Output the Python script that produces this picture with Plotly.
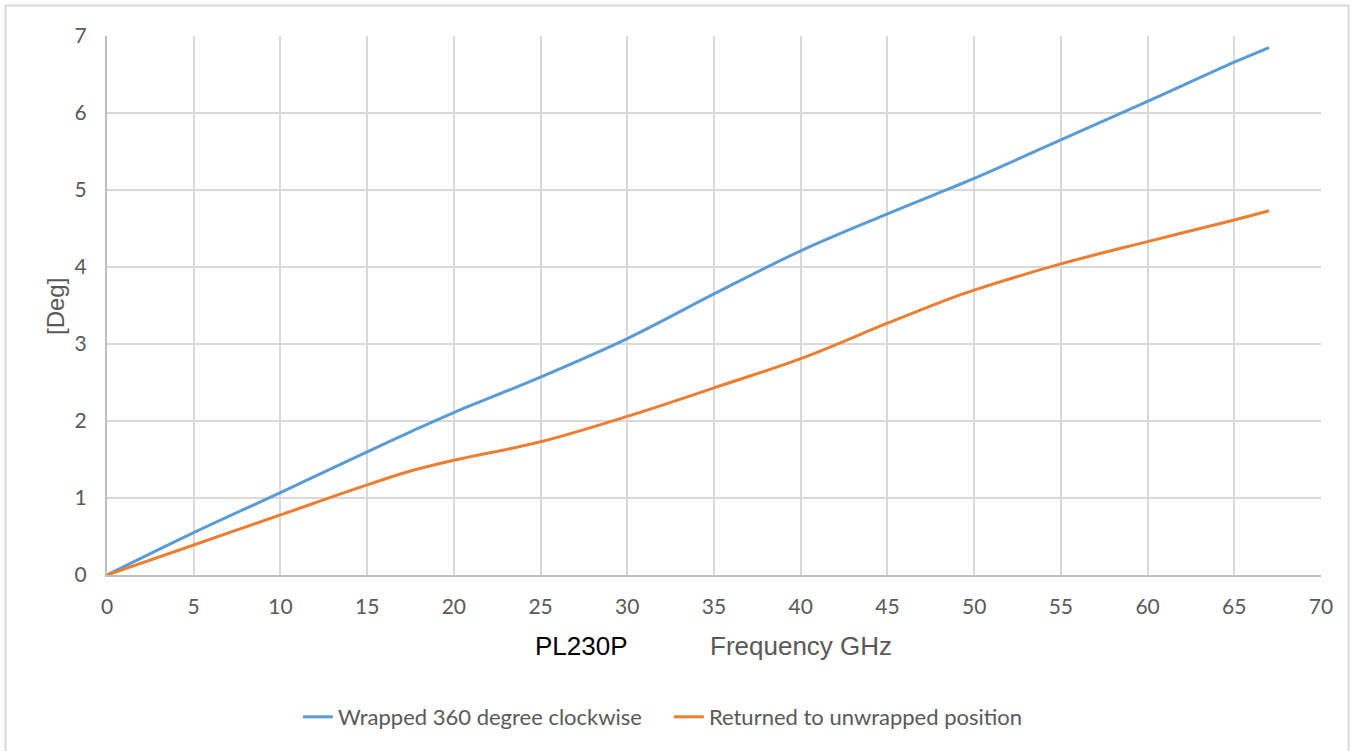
import plotly.graph_objects as go

# --- DATA ---
freq_ghz = [0, 5, 10, 15, 17.5, 20, 25, 30, 35, 40, 45, 48.6, 50, 55, 60, 65, 67]
wrapped_deg = [0, 0.55, 1.07, 1.60, 1.86, 2.11, 2.57, 3.07, 3.65, 4.21, 4.69, 5.02, 5.15, 5.65, 6.15, 6.66, 6.85]
returned_deg = [0, 0.39, 0.78, 1.17, 1.35, 1.49, 1.73, 2.06, 2.43, 2.81, 3.27, 3.59, 3.70, 4.04, 4.33, 4.61, 4.73]

SERIES_NAMES = ["Wrapped 360 degree clockwise", "Returned to unwrapped position"]
SERIES_COLORS = ["#5B9BD5", "#ED7D31"]

X_TICKS = list(range(0, 71, 5))
Y_TICKS = list(range(0, 8))

GRID = "#d9d9d9"
TEXT_GREY = "#595959"
TICK_FONT = dict(family="Lato, Open Sans, sans-serif", size=21, color=TEXT_GREY)
LEGEND_FONT = dict(family="Lato, Open Sans, sans-serif", size=22, color=TEXT_GREY)
ARIAL = "Liberation Sans, Arial, sans-serif"

W, H = 1354, 751
M_L, M_R, M_T, M_B = 107, 33, 36, 176
PW, PH = W - M_L - M_R, H - M_T - M_B


def px_to_paper_x(px):
    return (px - M_L) / PW


def px_to_paper_y(py):
    return (H - M_B - py) / PH


fig = go.Figure()
for ys, name, color in zip([wrapped_deg, returned_deg], SERIES_NAMES, SERIES_COLORS):
    fig.add_trace(go.Scatter(
        x=freq_ghz, y=ys, mode="lines", name=name,
        line=dict(color=color, width=3, shape="spline", smoothing=1.0),
    ))

# outer chart border (Excel-style chart area frame)
fig.add_shape(
    type="rect", xref="paper", yref="paper",
    x0=px_to_paper_x(5.5), x1=px_to_paper_x(1348.5),
    y0=px_to_paper_y(770), y1=px_to_paper_y(5.5),
    line=dict(color=GRID, width=2), fillcolor="rgba(0,0,0,0)", layer="below",
)

# axis titles as fixed annotations
fig.add_annotation(
    text="[Deg]", xref="paper", yref="paper",
    x=px_to_paper_x(55), y=px_to_paper_y(306), showarrow=False,
    xanchor="center", yanchor="middle", textangle=-90,
    font=dict(family=ARIAL, size=24, color=TEXT_GREY),
)
fig.add_annotation(
    text="PL230P", xref="paper", yref="paper",
    x=px_to_paper_x(581), y=px_to_paper_y(646), showarrow=False,
    xanchor="center", yanchor="middle",
    font=dict(family=ARIAL, size=26, color="#000000"),
)
fig.add_annotation(
    text="Frequency GHz", xref="paper", yref="paper",
    x=px_to_paper_x(801), y=px_to_paper_y(646), showarrow=False,
    xanchor="center", yanchor="middle",
    font=dict(family=ARIAL, size=26, color=TEXT_GREY),
)

fig.update_layout(
    width=W, height=H,
    margin=dict(l=M_L, r=M_R, t=M_T, b=M_B, autoexpand=False),
    paper_bgcolor="white", plot_bgcolor="white",
    showlegend=True,
    legend=dict(
        orientation="h", x=0.494, xanchor="center", xref="container",
        y=px_to_paper_y(717), yanchor="middle",
        font=LEGEND_FONT, traceorder="normal", entrywidth=326,
    ),
    xaxis=dict(
        range=[0, 70], tickvals=X_TICKS, tickfont=TICK_FONT,
        showgrid=True, gridcolor=GRID, gridwidth=2,
        showline=True, linecolor="#bfbfbf", linewidth=2,
        zeroline=False, ticks="", ticklabelstandoff=12,
    ),
    yaxis=dict(
        range=[0, 7], tickvals=Y_TICKS, tickfont=TICK_FONT,
        showgrid=True, gridcolor=GRID, gridwidth=2,
        showline=True, linecolor="#bfbfbf", linewidth=2,
        zeroline=False, ticks="", ticklabelstandoff=14,
    ),
)

fig.write_html("out.html", config={"displayModeBar": False},
               post_script="document.body.style.margin='0';")
